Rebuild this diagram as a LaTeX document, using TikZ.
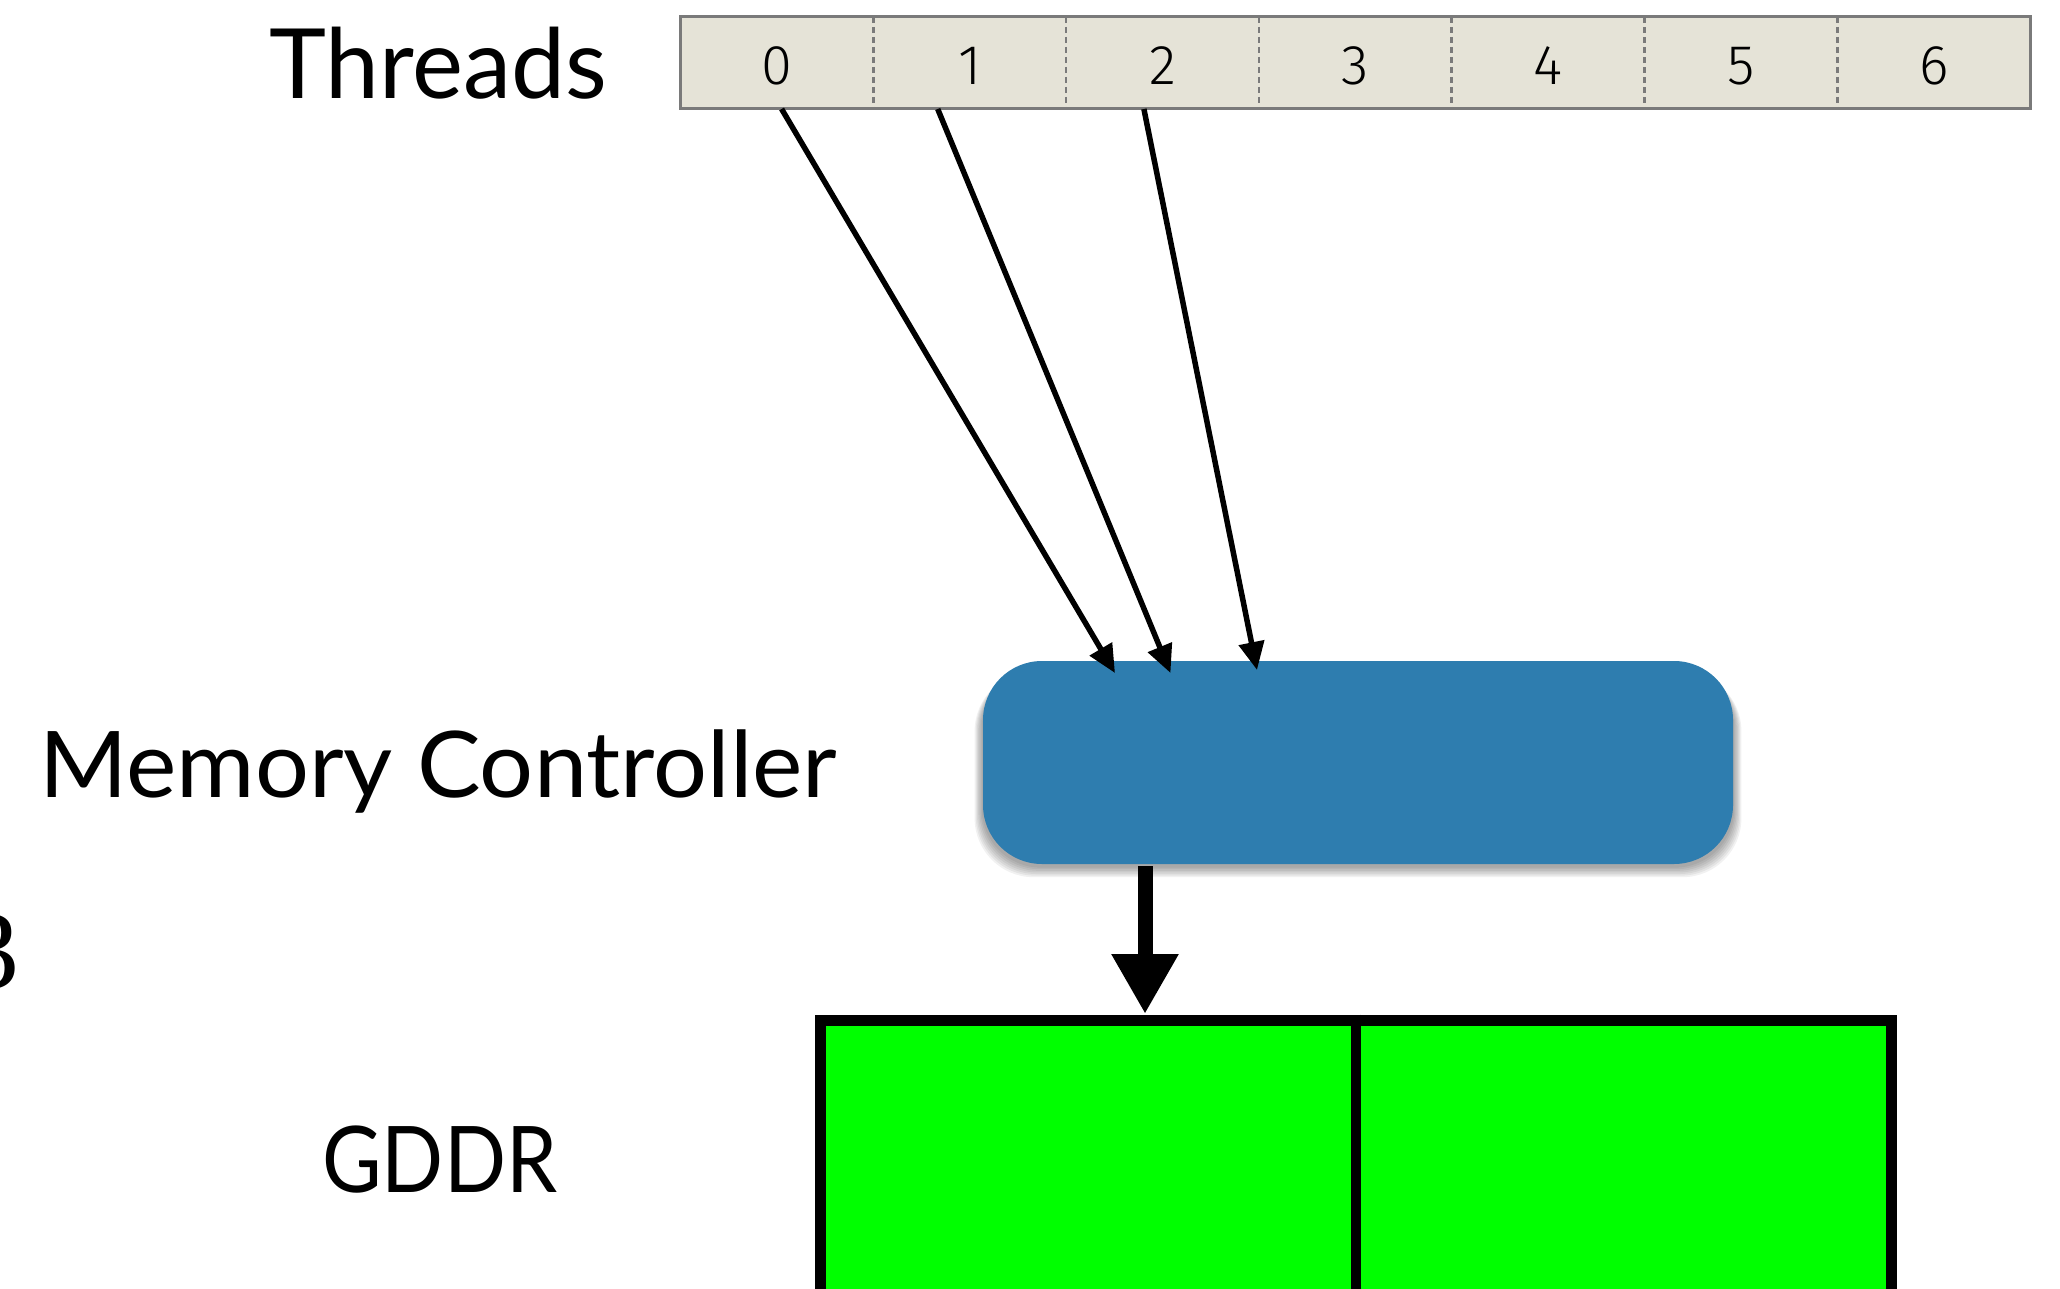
\documentclass[tikz,border=0pt]{standalone}
\usepackage{fontspec}
\usepackage{graphicx}
\usetikzlibrary{arrows.meta}
\newfontfamily\labelfont{Lato}
\newfontfamily\digitfont{Fira Sans Light}
\newfontfamily\serifdigit{Liberation Serif}
\definecolor{barfill}{HTML}{E5E3D7}
\definecolor{bargray}{HTML}{7A7A7A}
\definecolor{mcblue}{HTML}{2E7DAF}
\definecolor{gddrgreen}{HTML}{00FF00}
\tikzset{
  cell/.style={rectangle, inner sep=0pt, outer sep=0pt, minimum width=192.8pt, minimum height=92pt},
  digit/.style={font=\digitfont\fontsize{56}{56}\selectfont, inner sep=0pt, anchor=base},
  divider/.style={draw=bargray, line width=2.5pt, dash pattern=on 6pt off 4pt},
  label/.style={anchor=base west, inner sep=0pt},
  thinarrow/.style={line width=5.5pt, -{Triangle[length=28pt, width=25pt]}},
  thickarrow/.style={line width=15pt, -{Triangle[length=60pt, width=63pt]}},
  ctrl/.style={rectangle, rounded corners=59pt, fill=mcblue, minimum width=750pt, minimum height=203pt, inner sep=0pt},
  membox/.style={rectangle, draw=black, fill=gddrgreen, line width=11pt, minimum width=1071pt, minimum height=400pt, inner sep=0pt}
}
\begin{document}
\begin{tikzpicture}[x=1pt, y=-1pt]
\useasboundingbox (0,0) rectangle (2060,1289);
\fill[white] (0,0) rectangle (2060,1289);

% thread strip
\fill[barfill] (680.5,17) rectangle (2030,109);
\foreach \i in {0,...,6} {
  \node[cell] (t\i) at ({680.5+192.8*(\i+0.5)}, 63) {};
  \node[digit] (d\i) at ({680.5+192.8*(\i+0.5)}, 85) {\i};
}
\foreach \i in {1,...,6} {
  \draw[divider] (t\i.north west) -- (t\i.south west);
}
\draw[bargray, line width=3pt] (680.5,17) rectangle (2030,109);

% labels
\node[label] (lthreads) at (269,98.5) {\resizebox{338pt}{\height}{\labelfont\fontsize{97}{100}\selectfont Threads}};
\node[label] (lmc) at (39,797.5) {\resizebox{798pt}{\height}{\labelfont\fontsize{92}{96}\selectfont Memory Controller}};
\node[label] (lgddr) at (322,1192) {\resizebox{235pt}{\height}{\labelfont\fontsize{92}{96}\selectfont GDDR}};
\node[anchor=base east, inner sep=0pt] (lthree) at (20,988) {\serifdigit\fontsize{112}{112}\selectfont 3};

% memory controller with a soft shadow
\foreach \k in {1,...,7} {
  \fill[black, opacity=0.055, rounded corners=59pt]
    ({983-\k*1.2}, {668+\k*0.6}) rectangle ({1733+\k*1.2}, {866+\k*1.6});
}
\node[ctrl] (mc) at (1358,762.5) {};

% memory
\node[membox] (gddr) at (1356,1220) {};
\draw[line width=10pt] (gddr.north) -- (gddr.south);

% requests from threads
\coordinate (s0) at ([xshift=4.7pt]t0.south);
\coordinate (s1) at ([xshift=-32pt]t1.south);
\coordinate (s2) at ([xshift=-18.6pt]t2.south);
\coordinate (e0) at (1115,673);
\coordinate (e1) at (1170.5,673);
\coordinate (e2) at (1257,670);
\draw[thinarrow] (s0) -- (e0);
\draw[thinarrow] (s1) -- (e1);
\draw[thinarrow] (s2) -- (e2);

% controller to memory
\coordinate (mcout) at (1145,866);
\coordinate (gin) at (1145,1014);
\draw[thickarrow] (mcout) -- (gin);
\end{tikzpicture}
\end{document}
